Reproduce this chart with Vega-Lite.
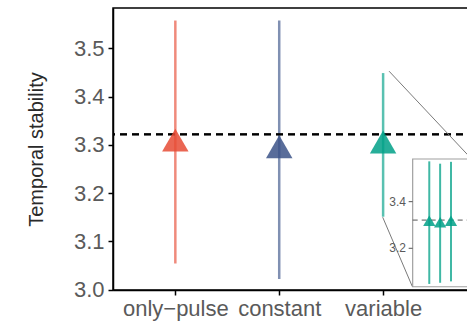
{
  "$schema": "https://vega.github.io/schema/vega-lite/v6.json",
  "autosize": "none",
  "padding": {"left": 113, "top": 8, "right": 0, "bottom": 35},
  "width": 374,
  "height": 282,
  "config": {
    "view": {"stroke": "black", "strokeWidth": 1.5},
    "font": "Liberation Sans",
    "axis": {"grid": false}
  },
  "resolve": {"scale": {"x": "independent", "y": "independent"}},
  "layer": [
    {
      "data": {"values": [
        {"treatment": "only-pulse", "x": 1, "mean": 3.310, "lo": 3.054, "hi": 3.558},
        {"treatment": "constant", "x": 2, "mean": 3.296, "lo": 3.022, "hi": 3.558},
        {"treatment": "variable", "x": 3, "mean": 3.306, "lo": 3.151, "hi": 3.449}
      ]},
      "layer": [
        {
          "mark": {"type": "rule", "strokeWidth": 2.5, "opacity": 0.65},
          "encoding": {
            "x": {"field": "x", "type": "quantitative",
              "scale": {"domain": [0.4, 4.0], "nice": false, "zero": false},
              "axis": {"values": [1, 2, 3], "title": null,
                "labelExpr": "datum.value == 1 ? 'only−pulse' : datum.value == 2 ? 'constant' : 'variable'",
                "domainColor": "black", "domainWidth": 1.5, "tickColor": "black", "tickWidth": 1.5, "tickSize": 5,
                "labelFontSize": 22, "labelColor": "#5a5a5a", "labelPadding": 3, "labelFlush": false, "labelOverlap": false}},
            "y": {"field": "lo", "type": "quantitative",
              "scale": {"domain": [2.999, 3.584], "nice": false, "zero": false},
              "axis": {"values": [3.0, 3.1, 3.2, 3.3, 3.4, 3.5], "format": ".1f", "title": "Temporal stability",
                "domainColor": "black", "domainWidth": 1.5, "tickColor": "black", "tickWidth": 1.5, "tickSize": 5,
                "labelFontSize": 22, "labelColor": "#5a5a5a", "labelPadding": 4,
                "titleFontSize": 20, "titleFontWeight": "normal", "titleColor": "#2a2a2a", "titlePadding": 27}},
            "y2": {"field": "hi"},
            "color": {"field": "treatment", "type": "nominal",
              "scale": {"domain": ["only-pulse", "constant", "variable"], "range": ["#E64B35", "#3C5488", "#00A087"]},
              "legend": null}
          }
        },
        {
          "mark": {"type": "rule", "color": "black", "strokeWidth": 1.8, "strokeDash": [7, 5]},
          "encoding": {"y": {"datum": 3.322, "type": "quantitative"}}
        },
        {
          "mark": {"type": "point", "shape": "triangle-up", "filled": true, "size": 700, "opacity": 0.85},
          "encoding": {
            "x": {"field": "x", "type": "quantitative"},
            "y": {"field": "mean", "type": "quantitative"},
            "color": {"field": "treatment", "type": "nominal", "legend": null}
          }
        }
      ]
    },
    {
      "data": {"values": [
        {"x1": 3.057, "y1": 3.453, "x2": 3.852, "y2": 3.2707},
        {"x1": 2.996, "y1": 3.150, "x2": 3.282, "y2": 3.0058}
      ]},
      "mark": {"type": "rule", "color": "#7a7a7a", "strokeWidth": 1},
      "encoding": {
        "x": {"field": "x1", "type": "quantitative", "scale": {"domain": [0.4, 4.0], "nice": false, "zero": false}, "axis": null},
        "y": {"field": "y1", "type": "quantitative", "scale": {"domain": [2.999, 3.584], "nice": false, "zero": false}, "axis": null},
        "x2": {"field": "x2"},
        "y2": {"field": "y2"}
      }
    },
    {
      "layer": [
        {
          "data": {"values": [{"l": -0.53, "r": 4.9, "b": 3.035, "t": 3.583}]},
          "mark": {"type": "rect", "fill": "white", "stroke": "#a0a0a0", "strokeWidth": 1.2},
          "encoding": {
            "x": {"field": "l", "type": "quantitative", "scale": {"domain": [-28.15, 6.32], "nice": false, "zero": false}, "axis": null},
            "x2": {"field": "r"},
            "y": {"field": "b", "type": "quantitative", "scale": {"domain": [3.021, 4.231], "nice": false, "zero": false}, "axis": null},
            "y2": {"field": "t"}
          }
        },
        {
          "data": {"values": [{"l": -0.53, "r": 4.9, "v": 3.321}]},
          "mark": {"type": "rule", "color": "#555555", "strokeWidth": 1, "strokeDash": [5, 4]},
          "encoding": {
            "x": {"field": "l", "type": "quantitative"},
            "x2": {"field": "r"},
            "y": {"field": "v", "type": "quantitative"}
          }
        },
        {
          "data": {"values": [
            {"x": 1, "lo": 3.047, "hi": 3.573, "mean": 3.318},
            {"x": 2, "lo": 3.052, "hi": 3.563, "mean": 3.312},
            {"x": 3, "lo": 3.058, "hi": 3.571, "mean": 3.318}
          ]},
          "layer": [
            {
              "mark": {"type": "rule", "color": "#00A087", "strokeWidth": 2, "opacity": 0.75},
              "encoding": {
                "x": {"field": "x", "type": "quantitative"},
                "y": {"field": "lo", "type": "quantitative"},
                "y2": {"field": "hi"}
              }
            },
            {
              "mark": {"type": "point", "shape": "triangle-up", "filled": true, "size": 150, "color": "#00A087", "opacity": 0.85},
              "encoding": {
                "x": {"field": "x", "type": "quantitative"},
                "y": {"field": "mean", "type": "quantitative"}
              }
            }
          ]
        },
        {
          "data": {"values": [
            {"v": 3.4, "lab": "3.4", "a": -0.9, "b": -0.53, "t": -1.15},
            {"v": 3.2, "lab": "3.2", "a": -0.9, "b": -0.53, "t": -1.15}
          ]},
          "layer": [
            {
              "mark": {"type": "rule", "color": "#555555", "strokeWidth": 1},
              "encoding": {
                "x": {"field": "a", "type": "quantitative"},
                "x2": {"field": "b"},
                "y": {"field": "v", "type": "quantitative"}
              }
            },
            {
              "mark": {"type": "text", "align": "right", "baseline": "middle", "fontSize": 12, "color": "#5a5a5a"},
              "encoding": {
                "x": {"field": "t", "type": "quantitative"},
                "y": {"field": "v", "type": "quantitative"},
                "text": {"field": "lab"}
              }
            }
          ]
        }
      ]
    }
  ]
}
